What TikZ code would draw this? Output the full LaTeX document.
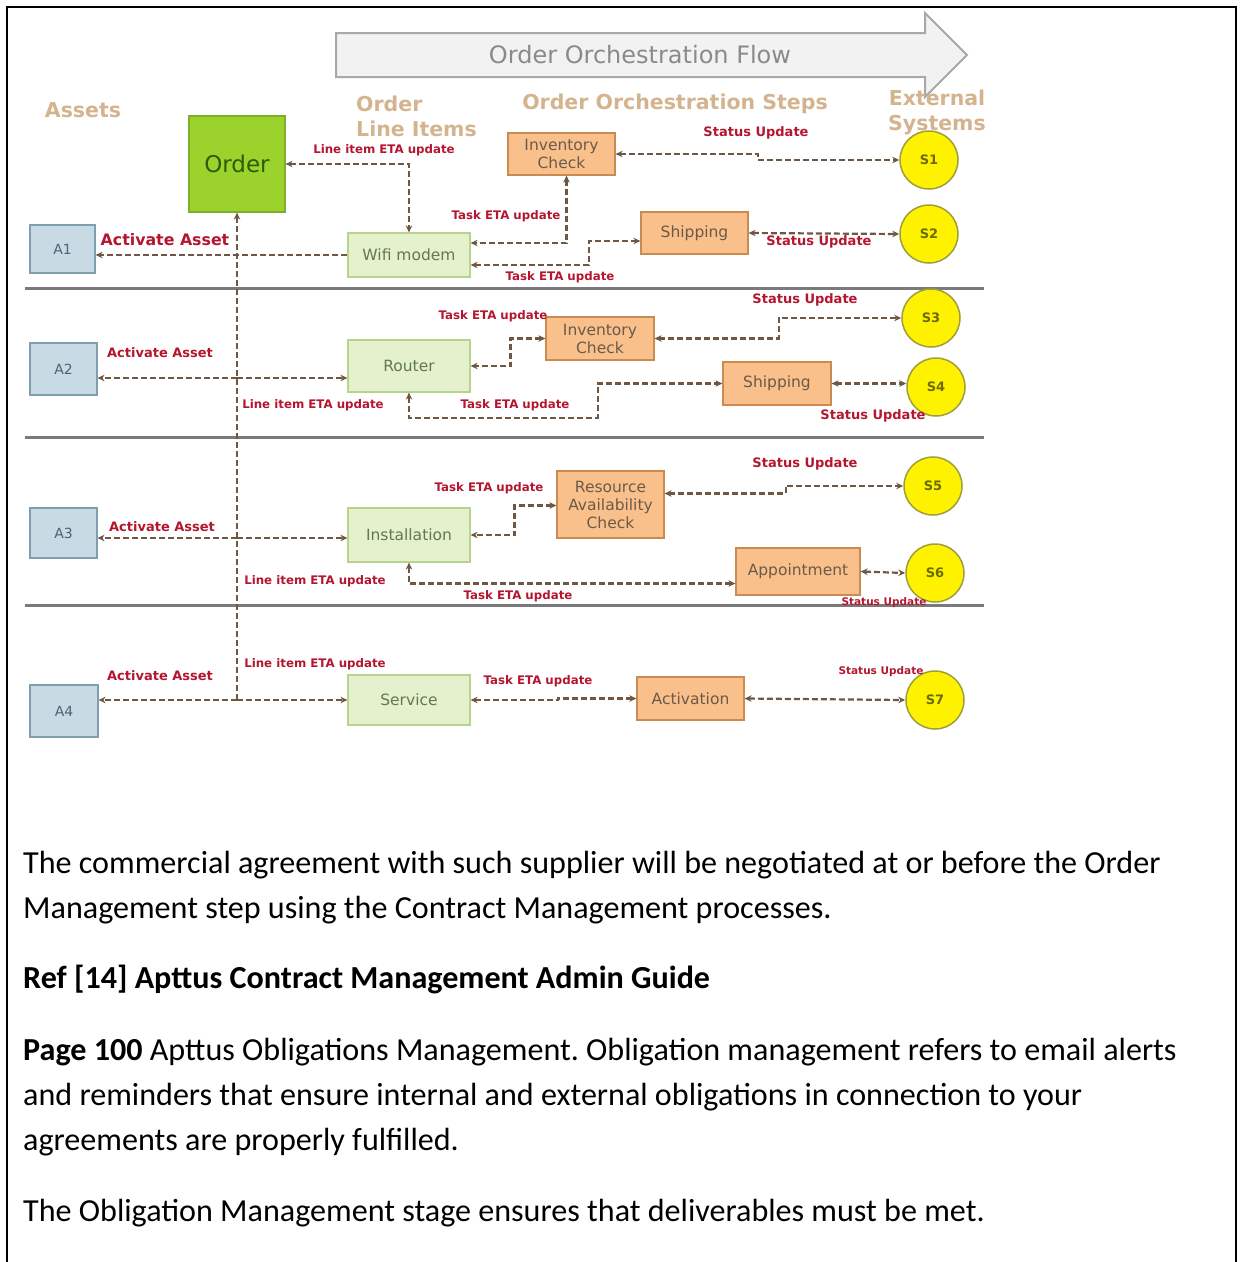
\documentclass[tikz,border=0pt]{standalone}
\usepackage{fontspec}
\setmainfont{Carlito}
\newfontfamily\dia{DejaVu Sans}
\usetikzlibrary{arrows.meta}
\frenchspacing

\definecolor{lnc}{HTML}{6E5843}
\definecolor{lblred}{HTML}{B5162F}
\definecolor{hdrtan}{HTML}{D4B48E}
\definecolor{ordfill}{HTML}{9BD22B}
\definecolor{orddraw}{HTML}{7FAE2A}
\definecolor{ordtext}{HTML}{2E5B0A}
\definecolor{lifill}{HTML}{E4F1CC}
\definecolor{lidraw}{HTML}{B8D38E}
\definecolor{litext}{HTML}{62784E}
\definecolor{stfill}{HTML}{F9C08C}
\definecolor{stdraw}{HTML}{C98B50}
\definecolor{sttext}{HTML}{6C5A48}
\definecolor{asfill}{HTML}{C8DAE3}
\definecolor{asdraw}{HTML}{7F9FB0}
\definecolor{astext}{HTML}{4D6378}
\definecolor{sysdraw}{HTML}{9E9E3A}
\definecolor{systext}{HTML}{6B6B00}
\definecolor{flowfill}{HTML}{F2F2F2}
\definecolor{flowdraw}{HTML}{A8A8A8}
\definecolor{flowtext}{HTML}{8A8A8A}
\definecolor{sepc}{HTML}{7A7A7A}

\tikzset{
  >={Stealth[length=7pt,width=6.5pt]},
  conn/.style={draw=lnc, line width=2.2pt, dash pattern=on 6pt off 3pt},
  lbl/.style={font=\dia\bfseries\fontsize{11.8}{12}\selectfont, text=lblred, inner sep=0pt},
  lblsmall/.style={font=\dia\bfseries\fontsize{10.5}{11}\selectfont, text=lblred, inner sep=0pt},
  actlbl/.style={font=\dia\bfseries\fontsize{13}{13}\selectfont, text=lblred, inner sep=0pt},
  hdr/.style={font=\dia\bfseries\fontsize{20.5}{25}\selectfont, text=hdrtan, inner sep=0pt},
  orderbox/.style={draw=orddraw, fill=ordfill, line width=1.2pt, minimum width=96pt, minimum height=96pt,
    font=\dia\fontsize{23}{23}\selectfont, text=ordtext, inner sep=0pt},
  itembox/.style={draw=lidraw, fill=lifill, line width=1.2pt, minimum width=122pt,
    font=\dia\fontsize{15.5}{18}\selectfont, text=litext, inner sep=0pt},
  stepbox/.style={draw=stdraw, fill=stfill, line width=1.2pt, minimum width=107pt, align=center,
    font=\dia\fontsize{15.5}{18}\selectfont, text=sttext, inner sep=0pt},
  assetbox/.style={draw=asdraw, fill=asfill, line width=1.2pt,
    font=\dia\fontsize{14}{14}\selectfont, text=astext, inner sep=0pt},
  sysnode/.style={circle, draw=sysdraw, fill=yellow, line width=1.5pt, minimum size=58pt, inner sep=0pt,
    font=\dia\bfseries\fontsize{13}{13}\selectfont, text=systext},
  sepline/.style={draw=sepc, line width=3pt},
  body/.style={font=\fontsize{32.1}{46}\selectfont, inner sep=0pt, anchor=base west}
}

\begin{document}
\begin{tikzpicture}[x=1pt,y=-1pt]
\useasboundingbox (0,0) rectangle (1242,1262);

% page frame, open at the bottom
\draw[line width=2.5pt] (7,1262) -- (7,7) -- (1236,7) -- (1236,1262);

% flow banner
\draw[fill=flowfill, draw=flowdraw, line width=2pt, line join=miter]
  (336,33) -- (925,33) -- (925,13) -- (967,55) -- (925,97) -- (925,77) -- (336,77) -- cycle;
\node[font=\dia\fontsize{24}{24}\selectfont, text=flowtext] (flow) at (640,55) {Order Orchestration Flow};

% column headings
\node[hdr] (hassets) at (83,110) {Assets};
\node[hdr, anchor=west, align=left] (hitems) at (356,116) {Order\\Line Items};
\node[hdr] (hsteps) at (675,104) {Order Orchestration Steps};
\node[hdr, align=center] (hext) at (937,112) {External\\Systems};

% row separators
\draw[sepline] (25,288) -- (984,288);
\draw[sepline] (25,437) -- (984,437);
\draw[sepline] (25,605) -- (984,605);

% order
\node[orderbox] (order) at (237,164) {Order};

% assets
\node[assetbox, minimum width=65pt, minimum height=48pt] (a1) at (62.5,249) {A1};
\node[assetbox, minimum width=67pt, minimum height=52pt] (a2) at (63.5,369) {A2};
\node[assetbox, minimum width=67pt, minimum height=50pt] (a3) at (63.5,533) {A3};
\node[assetbox, minimum width=68pt, minimum height=52pt] (a4) at (64,711) {A4};

% order line items
\node[itembox, minimum height=44pt] (wifi) at (409,255) {Wifi modem};
\node[itembox, minimum height=52pt] (router) at (409,366) {Router};
\node[itembox, minimum height=54pt] (install) at (409,535) {Installation};
\node[itembox, minimum height=50pt] (service) at (409,700) {Service};

% orchestration steps
\node[stepbox, minimum height=42pt] (inv1) at (561.5,154) {Inventory\\Check};
\node[stepbox, minimum height=42pt] (ship1) at (694.5,233) {Shipping};
\node[stepbox, minimum height=43pt, minimum width=108pt] (inv2) at (600,338.5) {Inventory\\Check};
\node[stepbox, minimum height=43pt, minimum width=108pt] (ship2) at (777,383.5) {Shipping};
\node[stepbox, minimum height=67pt] (rac) at (610.5,504.5) {Resource\\Availability\\Check};
\node[stepbox, minimum height=47pt, minimum width=124pt] (appt) at (798,571.5) {Appointment};
\node[stepbox, minimum height=43pt] (activ) at (690.5,698.5) {Activation};

% external systems
\node[sysnode] (s1) at (929,160) {S1};
\node[sysnode] (s2) at (929,234) {S2};
\node[sysnode] (s3) at (931,318) {S3};
\node[sysnode] (s4) at (936,387) {S4};
\node[sysnode] (s5) at (933,486) {S5};
\node[sysnode] (s6) at (935,573) {S6};
\node[sysnode] (s7) at (935,700) {S7};

% junctions on the order trunk
\coordinate (j2) at (order.south |- 0,378);
\coordinate (j3) at (order.south |- 0,538);
\coordinate (j4) at (order.south |- 0,700);

% order trunk
\draw[conn,<-] (order.south) -- (j4);

% row 1
\draw[conn,->] (wifi.west) -- (wifi.west -| a1.east);
\draw[conn,<->] (order.east) -| (wifi.north);
\draw[conn,<->] ([xshift=5pt]inv1.south) |- ([yshift=12pt]wifi.east);
\draw[conn,<->] ([yshift=-10pt]wifi.east) -- ++(118,0) |- ([yshift=-8pt]ship1.west);
\draw[conn,<->] (inv1.east) -- ++(142,0) |- (s1.west);
\draw[conn,<->] (ship1.east) -- (s2.west);

% row 2
\draw[conn,->] (j2) -- (j2 -| a2.east);
\draw[conn,->] (j2) -- (j2 -| router.west);
\draw[conn,<->] (inv2.west) -- ++(-35,0) |- (router.east);
\draw[conn,<->] (router.south) -- ++(0,25) -- ++(189,0) |- (ship2.west);
\draw[conn,<->] (inv2.east) -- ++(124,0) |- (s3.west);
\draw[conn,<->] (ship2.east) -- (ship2.east -| s4.west);

% row 3
\draw[conn,->] (j3) -- (j3 -| a3.east);
\draw[conn,->] (j3) -- (j3 -| install.west);
\draw[conn,<->] ([yshift=-1pt]rac.west) -- ++(-42,0) |- (install.east);
\draw[conn,<->] (install.south) |- ([yshift=-12pt]appt.west);
\draw[conn,<->] ([yshift=11pt]rac.east) -- ++(121,0) |- (s5.west);
\draw[conn,<->] (appt.east) -- (s6.west);

% row 4
\draw[conn,->] (j4) -- (j4 -| a4.east);
\draw[conn,->] (j4) -- (service.west);
\draw[conn,<->] (service.east) -- ++(87,0) |- (activ.west);
\draw[conn,<->] (activ.east) -- (s7.west);

% connector labels, row 1
\node[lbl] (l1a) at (384,150) {Line item ETA update};
\node[font=\dia\bfseries\fontsize{15.8}{16}\selectfont, text=lblred, inner sep=0pt] (l1b) at (165,240) {Activate Asset};
\node[lbl] (l1c) at (506,216) {Task ETA update};
\node[lbl] (l1d) at (560,277) {Task ETA update};
\node[actlbl] (l1e) at (756,133) {Status Update};
\node[actlbl] (l1f) at (819,242) {Status Update};

% row 2
\node[lbl] (l2a) at (493,316) {Task ETA update};
\node[actlbl] (l2b) at (160,353) {Activate Asset};
\node[lbl] (l2c) at (313,405) {Line item ETA update};
\node[lbl] (l2d) at (515,405) {Task ETA update};
\node[actlbl] (l2e) at (805,300) {Status Update};
\node[actlbl] (l2f) at (873,416) {Status Update};

% row 3
\node[actlbl] (l3a) at (805,464) {Status Update};
\node[lbl] (l3b) at (489,488) {Task ETA update};
\node[actlbl] (l3c) at (162,527) {Activate Asset};
\node[lbl] (l3d) at (315,581) {Line item ETA update};
\node[lbl] (l3e) at (518,596) {Task ETA update};
\node[lblsmall] (l3f) at (884,603) {Status Update};

% row 4
\node[lbl] (l4a) at (315,664) {Line item ETA update};
\node[actlbl] (l4b) at (160,676) {Activate Asset};
\node[lbl] (l4c) at (538,681) {Task ETA update};
\node[lblsmall] (l4d) at (881,672) {Status Update};

% text below the figure
\node[body] (p1) at (23,873) {The commercial agreement with such supplier will be negotiated at or before the Order};
\node[body] (p2) at (23,918) {Management step using the Contract Management processes.};
\node[body] (p3) at (23,988) {\bfseries Ref [14] Apttus Contract Management Admin Guide};
\node[body] (p4) at (23,1060) {\textbf{Page 100} Apttus Obligations Management. Obligation management refers to email alerts};
\node[body] (p5) at (23,1105) {and reminders that ensure internal and external obligations in connection to your};
\node[body] (p6) at (23,1150) {agreements are properly fulfilled.};
\node[body] (p7) at (23,1221) {The Obligation Management stage ensures that deliverables must be met.};
\end{tikzpicture}
\end{document}
